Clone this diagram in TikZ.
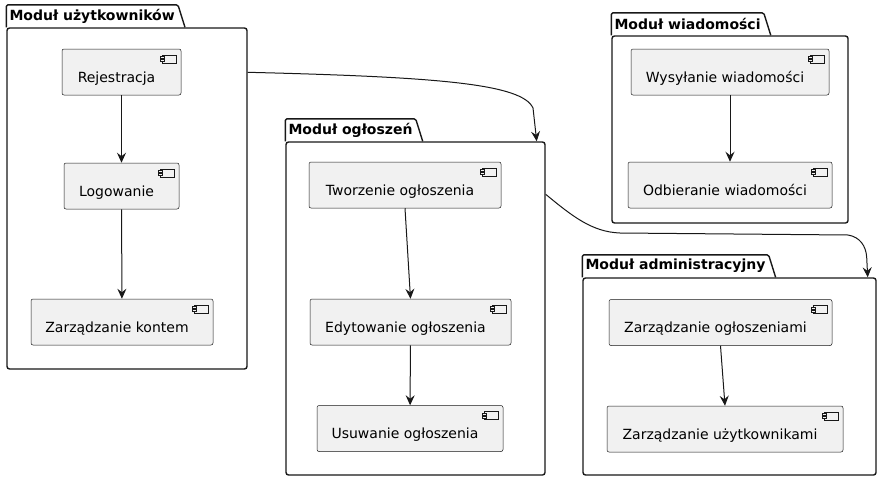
\documentclass[tikz,border=0pt]{standalone}
\usepackage{fontspec}
\setmainfont{DejaVu Sans}
\usepackage{tikz}
\usetikzlibrary{arrows.meta,positioning,calc}
\definecolor{compFill}{HTML}{F1F1F1}
\definecolor{ink}{HTML}{181818}

\begin{document}
\begin{tikzpicture}[
  x=1pt,y=-1pt,
  comp/.style={draw=ink,line width=0.5pt,fill=compFill,rounded corners=2pt,
               minimum height=46pt,inner sep=0pt,font=\fontsize{14}{16}\selectfont,
               text height=20pt,text depth=0pt,
               execute at end node={\hspace*{10pt}},
               path picture={
                 \draw[ink,line width=0.5pt,sharp corners]
                   ($(path picture bounding box.north east)+(-19,6)$) rectangle ++(14,8);
                 \draw[ink,line width=0.5pt,fill=compFill,sharp corners]
                   ($(path picture bounding box.north east)+(-21,7.5)$) rectangle ++(4,2)
                   ($(path picture bounding box.north east)+(-21,10.5)$) rectangle ++(4,2);
               }},
  pkg/.style={draw=ink,line width=1.4pt,fill=white,rounded corners=2.5pt,inner sep=0pt},
  pkgtitle/.style={anchor=south west,minimum height=22pt,inner xsep=3pt,inner ysep=0pt,
                   font=\bfseries\fontsize{14}{16}\selectfont},
  tab/.style={draw=ink,line width=1.4pt,rounded corners=1.5pt,line join=round},
  flow/.style={-{Stealth[length=10pt,width=9pt,inset=3.5pt]},draw=ink,line width=1pt}
]
  \useasboundingbox (0,0) rectangle (886,482);

  % packages
  \node[pkg,minimum width=240pt,minimum height=341pt] (pu) at (127,198.5) {};
  \node[pkg,minimum width=259pt,minimum height=333pt] (po) at (415.5,308.5) {};
  \node[pkg,minimum width=236pt,minimum height=187pt] (pw) at (730,129.5) {};
  \node[pkg,minimum width=293pt,minimum height=197pt] (pa) at (729.5,376.5) {};

  \node[pkgtitle] (tu) at (pu.north west) {Moduł użytkowników};
  \node[pkgtitle] (to) at (po.north west) {Moduł ogłoszeń};
  \node[pkgtitle] (tw) at (pw.north west) {Moduł wiadomości};
  \node[pkgtitle] (ta) at (pa.north west) {Moduł administracyjny};

  \draw[tab] (pu.north west) |- (tu.north east) -- ($(tu.south east)+(7,0)$);
  \draw[tab] (po.north west) |- (to.north east) -- ($(to.south east)+(7,0)$);
  \draw[tab] (pw.north west) |- (tw.north east) -- ($(tw.south east)+(7,0)$);
  \draw[tab] (pa.north west) |- (ta.north east) -- ($(ta.south east)+(7,0)$);

  % components
  \node[comp,minimum width=119pt] (rej) at (121.5,72) {Rejestracja};
  \node[comp,minimum width=115pt] (log) at (121.5,186) {Logowanie};
  \node[comp,minimum width=182pt] (konto) at (122,322) {Zarządzanie kontem};

  \node[comp,minimum width=192pt] (tworz) at (405,185) {Tworzenie ogłoszenia};
  \node[comp,minimum width=201pt] (edyt) at (410.5,322) {Edytowanie ogłoszenia};
  \node[comp,minimum width=186pt] (usun) at (410,428.5) {Usuwanie ogłoszenia};

  \node[comp,minimum width=198pt] (wysl) at (730,72) {Wysyłanie wiadomości};
  \node[comp,minimum width=204pt] (odb) at (730,185) {Odbieranie wiadomości};

  \node[comp,minimum width=223pt] (zogl) at (720.5,322.5) {Zarządzanie ogłoszeniami};
  \node[comp,minimum width=236pt] (zuz) at (725,429) {Zarządzanie użytkownikami};

  \draw[flow] (rej)--(log);
  \draw[flow] (log)--(konto);
  \draw[flow] (tworz.south)--(edyt.north);
  \draw[flow] (edyt)--(usun);
  \draw[flow] (wysl)--(odb);
  \draw[flow] (zogl.south)--(zuz.north);

  % links between packages
  \draw[flow] ($(pu.north east)+(0,45)$) .. controls (440,77) and (522,84) .. (533,108)
    -- ($(po.north east)+(-9,0)$);
  \draw[flow] ($(po.north east)+(0,53)$) .. controls (572,216) and (592,232) .. (620,233)
    -- (848,235) .. controls (860,237) and (866,246) .. ($(pa.north east)+(-10,-20)$)
    -- ($(pa.north east)+(-9,0)$);
\end{tikzpicture}
\end{document}
